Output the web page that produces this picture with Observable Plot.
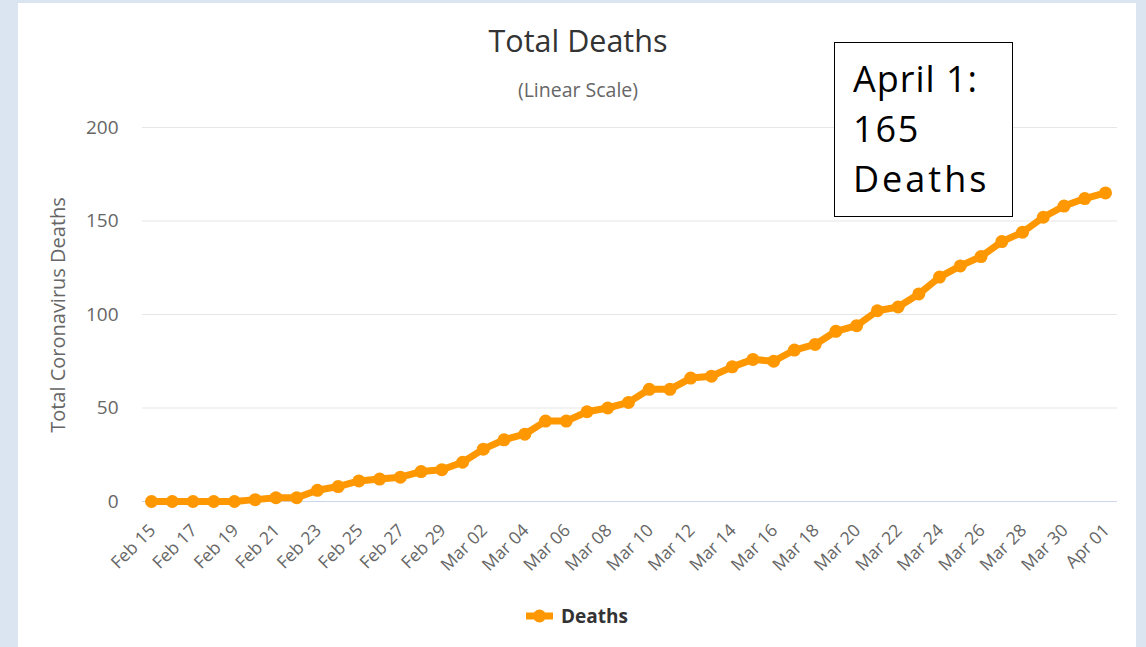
<!DOCTYPE html>
<html>
<head>
<meta charset="utf-8">
<script src="https://cdn.jsdelivr.net/npm/d3@7"></script>
<script src="https://cdn.jsdelivr.net/npm/@observablehq/plot@0.6"></script>
<style>
html, body { margin: 0; padding: 0; }
body { width: 1146px; height: 647px; background: #dbe5f1; position: relative; overflow: hidden; font-family: "Open Sans", sans-serif; }
#panel { position: absolute; left: 18px; top: 3px; width: 1118px; height: 644px; background: #fff; }
#title { position: absolute; left: 578px; top: 25px; transform: translateX(-50%); font-size: 30.5px; line-height: 1; color: #333; white-space: nowrap; }
#subtitle { position: absolute; left: 578px; top: 80px; transform: translateX(-50%); font-size: 19.5px; line-height: 1; color: #666; white-space: nowrap; }
#ylabel { position: absolute; left: 58px; top: 315px; transform: translate(-50%, -50%) rotate(-90deg); font-size: 20px; line-height: 1; color: #666; white-space: nowrap; }
#chart { position: absolute; left: 0; top: 0; }
#legend { position: absolute; left: 526px; top: 603px; display: flex; align-items: center; font-size: 19px; font-weight: bold; color: #333; }
#legend svg { margin-right: 8px; }
#note { position: absolute; left: 834px; top: 42px; width: 179px; height: 175px; box-sizing: border-box; border: 1.5px solid #000; background: #fff; padding: 11px 0 0 18px; font-size: 36px; line-height: 50px; letter-spacing: 1.8px; color: #000; }
#note .w { letter-spacing: 3px; }
</style>
</head>
<body>
<div id="panel"></div>
<div id="title">Total Deaths</div>
<div id="subtitle">(Linear Scale)</div>
<div id="ylabel">Total Coronavirus Deaths</div>
<div id="chart"></div>
<div id="legend"><svg width="27" height="14"><line x1="0" y1="7" x2="27" y2="7" stroke="#ff9800" stroke-width="7"/><circle cx="13.5" cy="7" r="6.5" fill="#ff9800"/></svg><span>Deaths</span></div>
<div id="note"><span style="letter-spacing:1px">April 1:</span><br>165<br><span class="w">Deaths</span></div>
<script>
const dates = [
  "2020-02-15","2020-02-16","2020-02-17","2020-02-18","2020-02-19","2020-02-20","2020-02-21","2020-02-22",
  "2020-02-23","2020-02-24","2020-02-25","2020-02-26","2020-02-27","2020-02-28","2020-02-29",
  "2020-03-01","2020-03-02","2020-03-03","2020-03-04","2020-03-05","2020-03-06","2020-03-07","2020-03-08",
  "2020-03-09","2020-03-10","2020-03-11","2020-03-12","2020-03-13","2020-03-14","2020-03-15","2020-03-16",
  "2020-03-17","2020-03-18","2020-03-19","2020-03-20","2020-03-21","2020-03-22","2020-03-23","2020-03-24",
  "2020-03-25","2020-03-26","2020-03-27","2020-03-28","2020-03-29","2020-03-30","2020-03-31","2020-04-01"
];
const deaths = [
  0, 0, 0, 0, 0, 1, 2, 2,
  6, 8, 11, 12, 13, 16, 17,
  21, 28, 33, 36, 43, 43, 48, 50,
  53, 60, 60, 66, 67, 72, 76, 75,
  81, 84, 91, 94, 102, 104, 111, 120,
  126, 131, 139, 144, 152, 158, 162, 165
];
const tickDates = [
  "2020-02-15","2020-02-17","2020-02-19","2020-02-21","2020-02-23","2020-02-25","2020-02-27","2020-02-29",
  "2020-03-02","2020-03-04","2020-03-06","2020-03-08","2020-03-10","2020-03-12","2020-03-14","2020-03-16",
  "2020-03-18","2020-03-20","2020-03-22","2020-03-24","2020-03-26","2020-03-28","2020-03-30","2020-04-01"
];
const tickLabels = [
  "Feb 15","Feb 17","Feb 19","Feb 21","Feb 23","Feb 25","Feb 27","Feb 29",
  "Mar 02","Mar 04","Mar 06","Mar 08","Mar 10","Mar 12","Mar 14","Mar 16",
  "Mar 18","Mar 20","Mar 22","Mar 24","Mar 26","Mar 28","Mar 30","Apr 01"
];
const yTicks = [0, 50, 100, 150, 200];

const parse = d3.utcParse("%Y-%m-%d");
const data = dates.map((d, i) => ({date: parse(d), deaths: deaths[i]}));
const ticks = tickDates.map((d, i) => ({date: parse(d), label: tickLabels[i]}));
const orange = "#ff9800";

const chart = Plot.plot({
  width: 1146,
  height: 560,
  marginLeft: 142,
  marginRight: 29,
  marginTop: 127,
  marginBottom: 59,
  style: {background: "none", fontFamily: "Open Sans, sans-serif", overflow: "visible"},
  x: {type: "utc", domain: [parse(dates[0]), parse(dates[dates.length - 1])], insetLeft: 9, insetRight: 12, axis: null},
  y: {domain: [0, 200], axis: null},
  marks: [
    Plot.gridY(yTicks.filter(d => d > 0), {stroke: "#e6e6e6", strokeOpacity: 1, strokeWidth: 1.2}),
    Plot.ruleY([0], {stroke: "#ccd6eb", strokeWidth: 1.2}),
    Plot.axisY(yTicks, {tickSize: 0, tickPadding: 24, fontSize: 19, fill: "#666", label: null}),
    Plot.text(ticks, {x: "date", frameAnchor: "bottom", text: "label", rotate: -45, textAnchor: "end", lineAnchor: "bottom", dx: 5, dy: 30, fontSize: 17.5, fill: "#666"}),
    Plot.line(data, {x: "date", y: "deaths", stroke: orange, strokeWidth: 7, strokeLinejoin: "round", strokeLinecap: "round"}),
    Plot.dot(data, {x: "date", y: "deaths", r: 6.5, fill: orange, stroke: null})
  ]
});
document.getElementById("chart").appendChild(chart);
</script>
</body>
</html>
